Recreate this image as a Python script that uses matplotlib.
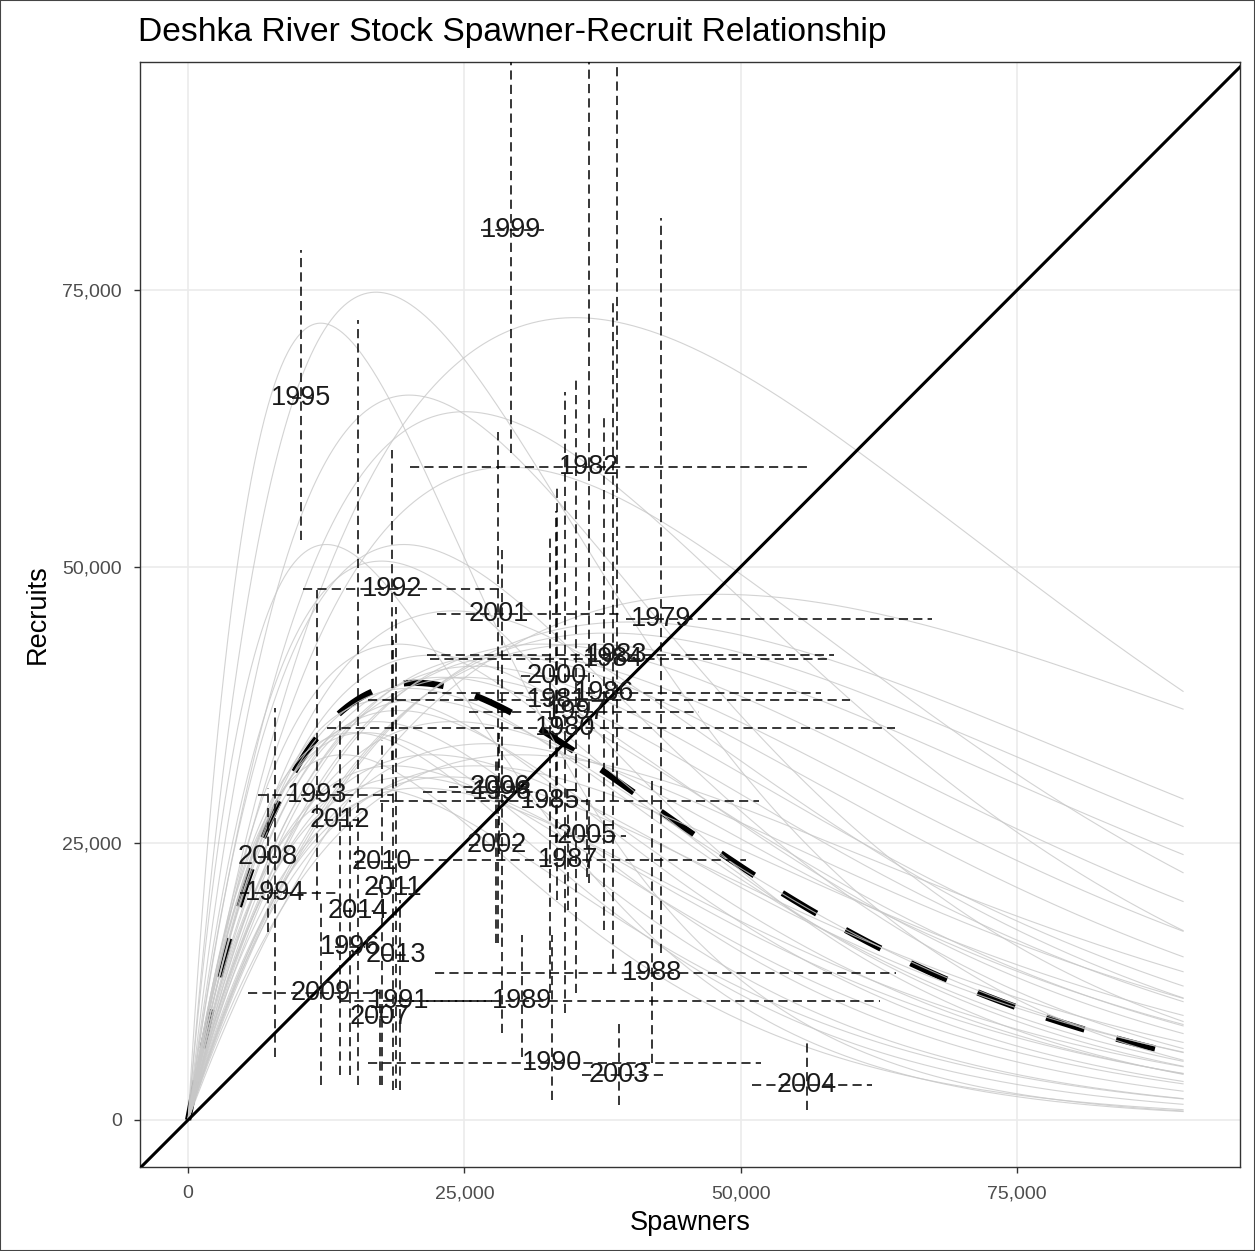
import numpy as np
import matplotlib
matplotlib.use("Agg")
import matplotlib.pyplot as plt
from matplotlib.ticker import FuncFormatter, FixedLocator
from matplotlib.patches import Rectangle

plt.rcParams["font.family"] = ["Liberation Sans", "DejaVu Sans"]

# Brood-year estimates: spawners, recruits and their credible intervals
years = [1979, 1980, 1981, 1982, 1983, 1984, 1985, 1986, 1987, 1988, 1989, 1990,
         1991, 1992, 1993, 1994, 1995, 1996, 1997, 1998, 1999, 2000, 2001, 2002,
         2003, 2004, 2005, 2006, 2007, 2008, 2009, 2010, 2011, 2012, 2013, 2014]
spawners = [42780, 34115, 33390, 36280, 38810, 38450, 32760, 37630, 34400, 41970, 30235, 32940,
            19130, 18410, 11640, 7850, 10200, 14620, 35110, 28430, 29240, 33300, 28070, 27890,
            38990, 55955, 36100, 28160, 17330, 7220, 12000, 17510, 18500, 13720, 18770, 15340]
recruits = [45265, 35420, 37950, 59000, 42010, 41650, 28820, 38580, 23490, 13280, 10750, 5150,
            10750, 47975, 29360, 20510, 65230, 15630, 36860, 29635, 80410, 40115, 45720, 24850,
            4070, 3160, 25660, 30090, 9305, 23760, 11475, 23310, 20960, 27105, 14910, 18880]
spawners_lo = [39620, 12545, 16245, 20040, 21570, 21840, 17330, 21660, 20035, 22290, 19585, 16245,
               13720, 10380, 6320, 4690, 9390, 13270, 25450, 21210, 26535, 30145, 22470, 25450,
               35650, 50990, 32670, 23645, 16000, 6300, 5415, 15070, 16600, 12300, 17500, 14000]
spawners_hi = [67330, 63900, 59835, 56320, 58390, 57940, 51620, 57220, 50450, 63990, 62630, 51800,
               27530, 28160, 18500, 13720, 11190, 15975, 46210, 31770, 32220, 36730, 39170, 30415,
               43050, 61820, 39620, 30865, 18700, 8000, 17330, 20035, 20490, 15500, 20000, 16800]
recruits_lo = [15090, 9670, 19880, 21410, 30720, 13280, 11470, 17170, 19000, 5150, 5690, 1810,
               2710, 32530, 19880, 5690, 52400, 4070, 11470, 7860, 60260, 25000, 15990, 15990,
               1355, 900, 22000, 24000, 3160, 17000, 3160, 3160, 2710, 4070, 2890, 3160]
recruits_hi = [81500, 65775, 57100, 110000, 110000, 73900, 52670, 63430, 28000, 30720, 16715, 16715,
               19880, 60535, 47885, 37225, 78600, 28910, 67040, 51500, 110000, 55000, 62160, 32530,
               9035, 6960, 29000, 35000, 12000, 30000, 19880, 34330, 43370, 36410, 46350, 72280]

# Ricker posterior draws, each described by the spawner level of peak
# production (S_max) and the peak recruitment (R_max)
draw_smax = [17000, 12000, 35000, 20000, 25000, 29000, 12500, 17500, 19500, 48000,
             40000, 38000, 36000, 32000, 30000, 28000, 26000, 25000, 23000, 22000,
             21000, 20000, 19000, 18000, 17000, 16000, 15000, 24000, 27000, 22000,
             20000, 18500, 16500, 21000, 23500, 26000, 30000, 14000, 19000, 24000]
draw_rmax = [74800, 72000, 72500, 65500, 64000, 59000, 52000, 50500, 52000, 47500,
             45000, 44000, 43000, 43000, 42000, 42000, 41000, 40000, 40000, 42000,
             38000, 39000, 37000, 38000, 36000, 35000, 35000, 36000, 34000, 33000,
             31000, 32000, 30000, 30000, 31000, 32000, 33000, 33000, 43000, 46000]
median_smax = 20530
median_rmax = 39500
s_max_plot = 90000


def ricker(s, smax, rmax):
    return rmax * (s / smax) * np.exp(1.0 - s / smax)


fig = plt.figure(figsize=(12.55, 12.51), dpi=100)
ax = fig.add_axes([140 / 1255, 1 - 1167 / 1251, 1100 / 1255, 1105 / 1251])

s_grid = np.linspace(0, s_max_plot, 600)

# median relationship (drawn underneath the posterior draws)
med, = ax.plot(s_grid, ricker(s_grid, median_smax, median_rmax), color="black",
               lw=4.5, zorder=2)
med.set_dashes((6.4, 5.3))

for sm, rm in zip(draw_smax, draw_rmax):
    ax.plot(s_grid, ricker(s_grid, sm, rm), color="#c8c8c8", lw=0.8, alpha=0.8, zorder=3)

# replacement line
ax.axline((0, 0), slope=1, color="black", lw=2.2, zorder=4)

# interval bars
dash = (0, (6.0, 3.4))
ax.vlines(spawners, recruits_lo, recruits_hi, colors="black", linestyles=[dash], lw=1.1, zorder=5)
ax.hlines(recruits, spawners_lo, spawners_hi, colors="black", linestyles=[dash], lw=1.1, zorder=5)

for yr, s, r in zip(years, spawners, recruits):
    ax.text(s, r, str(yr), ha="center", va="center", fontsize=19.5, color="#1a1a1a", zorder=6)

ax.set_xlim(-4350, 95150)
ax.set_ylim(-4250, 95600)

ticks = [0, 25000, 50000, 75000]
ax.xaxis.set_major_locator(FixedLocator(ticks))
ax.yaxis.set_major_locator(FixedLocator(ticks))
fmt = FuncFormatter(lambda v, p: f"{v:,.0f}")
ax.xaxis.set_major_formatter(fmt)
ax.yaxis.set_major_formatter(fmt)
ax.grid(True, color="#ebebeb", lw=1.2, zorder=0)
ax.set_axisbelow(True)
ax.tick_params(axis="both", colors="#333333", labelcolor="#4d4d4d", labelsize=14,
               length=4, width=1, pad=9)
for sp in ax.spines.values():
    sp.set_color("#333333")
    sp.set_linewidth(1.0)

ax.set_xlabel("Spawners", fontsize=19.5, color="black", labelpad=6)
ax.set_ylabel("Recruits", fontsize=19.5, color="black", labelpad=8)

fig.text(138 / 1255, 1 - 33 / 1251, "Deshka River Stock Spawner-Recruit Relationship",
         ha="left", va="center", fontsize=24.2, color="black")

fig.patches.append(Rectangle((0, 0), 1, 1, transform=fig.transFigure, fill=False,
                             edgecolor="#444444", lw=1.5))

fig.savefig("out.png", dpi=100)
